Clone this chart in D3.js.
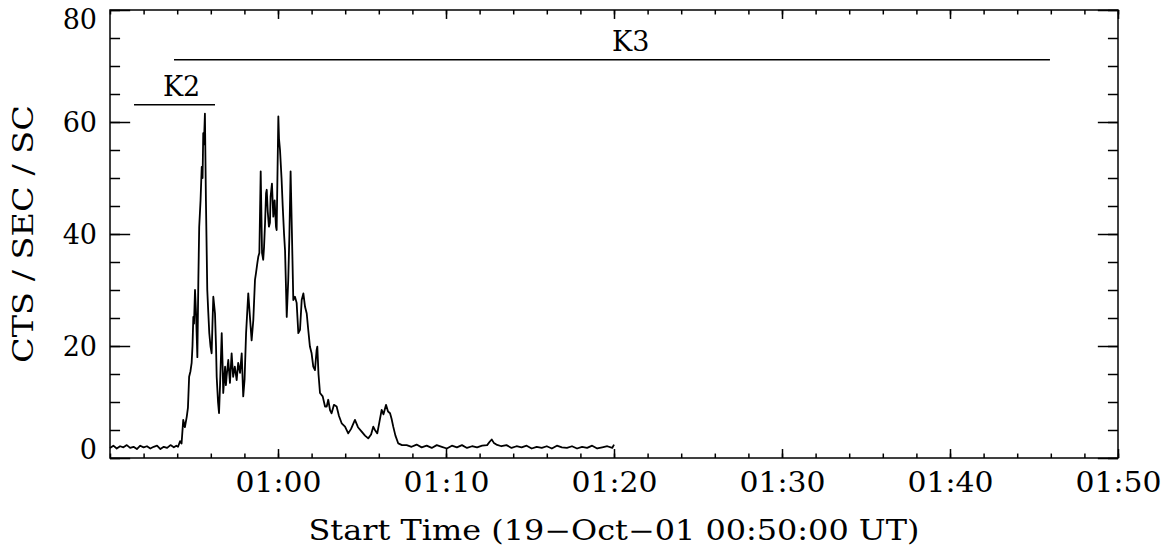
<!DOCTYPE html>
<html>
<head>
<meta charset="utf-8">
<script src="https://cdn.jsdelivr.net/npm/d3@7"></script>
<style>
  body { margin: 0; background: #fff; }
  svg text { font-family: "DejaVu Serif", serif; fill: #000; }
</style>
</head>
<body>
<div id="chart"></div>
<script>
// minutes after the start time 19-Oct-01 00:50:00 UT
const minutes = [
  0.0,0.2,0.4,0.6,0.8,1.0,1.2,1.4,1.6,1.8,2.0,2.2,2.4,2.6,2.8,3.0,3.2,3.4,3.6,3.8,3.95,
  4.05,4.17,4.26,4.36,4.46,4.57,4.64,4.71,4.79,4.86,
  4.91,4.96,5.00,5.06,5.12,5.20,5.26,5.31,5.39,5.46,
  5.51,5.55,5.59,5.65,5.71,5.79,5.85,5.91,5.98,6.05,
  6.10,6.15,6.25,6.31,6.35,6.43,6.49,6.55,6.65,6.70,
  6.74,6.85,6.90,6.94,7.04,7.14,7.24,7.33,7.43,7.54,
  7.63,7.74,7.84,7.93,8.01,8.10,8.23,8.33,8.43,8.53,
  8.63,8.69,8.77,8.83,8.89,8.97,9.05,9.12,9.17,9.23,
  9.29,9.33,9.39,9.46,9.52,9.56,9.64,9.72,9.80,9.88,
  9.92,10.02,10.06,10.12,10.21,10.28,10.36,10.42,10.52,10.61,
  10.68,10.75,10.83,10.91,11.01,11.11,11.21,11.31,11.41,11.51,
  11.61,11.71,11.80,11.90,12.00,12.10,12.20,12.30,12.34,12.41,
  12.50,12.66,12.80,12.90,12.99,13.10,13.19,13.33,13.49,13.63,
  13.79,13.99,14.18,14.35,14.58,14.76,14.98,15.18,15.37,15.54,
  15.67,15.77,15.91,16.04,16.17,16.28,16.43,16.55,16.67,16.76,
  16.86,16.99,17.16,17.38,17.66,
  17.95,18.25,18.55,18.85,19.15,19.45,19.75,20.05,20.35,20.65,
  20.95,21.25,21.55,21.85,22.15,22.45,22.6,22.72,22.85,23.0,
  23.3,23.6,23.9,24.2,24.5,24.8,25.1,25.4,25.7,26.0,
  26.3,26.6,26.9,27.2,27.5,27.8,28.1,28.4,28.7,29.0,
  29.3,29.6,29.9,30.0
];
const counts = [
  1.8,2.2,1.7,2.1,1.9,2.3,1.8,2.0,1.6,2.2,1.9,2.1,1.7,2.0,2.2,1.6,2.0,1.8,2.3,1.9,2.2,
  2.0,3.0,2.6,6.8,5.5,7.4,9.0,14.5,15.5,17.0,
  20.0,25.2,24.0,30.0,26.0,18.0,32.0,41.3,46.0,52.0,
  50.0,58.0,56.0,61.5,46.0,30.0,26.0,22.3,20.0,18.7,
  24.0,28.8,25.8,20.0,14.5,10.0,8.0,13.0,22.3,17.0,
  11.6,16.3,13.0,14.5,17.5,13.4,18.7,14.5,16.3,13.9,
  17.0,15.2,18.7,11.0,14.0,22.3,29.4,25.2,21.0,24.6,
  31.8,33.0,34.8,36.0,36.6,51.2,36.6,35.4,37.7,42.0,
  47.3,47.9,44.0,41.3,42.0,46.7,49.0,43.1,46.0,41.3,
  40.7,61.0,57.0,55.0,50.0,45.0,40.0,37.0,25.2,31.8,
  40.0,51.2,40.0,28.2,28.8,27.7,22.3,22.9,28.2,29.4,
  27.0,25.8,22.9,19.9,18.7,16.3,15.7,19.3,19.9,15.0,
  11.6,11.0,9.2,9.2,10.4,8.5,8.0,9.5,9.2,7.5,
  6.2,5.6,4.4,5.2,6.8,5.5,4.7,4.0,3.5,4.2,
  5.6,5.0,4.4,6.5,8.6,7.8,9.5,8.3,8.0,7.0,
  5.6,4.0,2.6,2.3,2.3,
  2.0,2.4,1.9,2.2,1.8,2.3,2.0,1.7,2.2,1.9,
  2.3,1.8,2.1,1.9,2.2,2.3,2.9,3.3,2.7,2.4,
  2.1,2.3,1.8,2.1,1.9,2.2,1.7,2.0,1.8,2.1,
  1.7,2.2,1.9,1.8,2.1,1.7,2.0,1.8,2.2,1.7,
  1.9,2.1,1.8,2.4
];

// interval bars drawn above the curve: name, start/end minute, level, label minute
const barNames = ["K2", "K3"];
const barStart = [1.43, 3.81];
const barEnd = [6.25, 55.95];
const barLevel = [63.1, 71.1];
const barLabelAt = [4.26, 31.0];

const startTime = new Date(Date.UTC(2001, 9, 19, 0, 50, 0));
const xTicks = [10, 20, 30, 40, 50, 60];
const yTicks = [0, 20, 40, 60, 80];

const width = 1176, height = 554;
const margin = {top: 10, right: 58, bottom: 96, left: 110};

function toDate(m) { return new Date(startTime.getTime() + m * 60000); }

const svg = d3.select("#chart").append("svg")
  .attr("width", width)
  .attr("height", height);

const x = d3.scaleUtc()
  .domain([toDate(0), toDate(60)])
  .range([margin.left, width - margin.right]);
const y = d3.scaleLinear()
  .domain([0, 80])
  .range([height - margin.bottom, margin.top]);

const plotW = width - margin.left - margin.right;
const plotH = height - margin.top - margin.bottom;
const fmt = d3.utcFormat("%H:%M");

// minor ticks first, then major ticks with labels
const minorX = d3.range(0, 61, 2).map(toDate);
const minorY = d3.range(0, 81, 5);

svg.append("g")
  .attr("transform", `translate(0,${height - margin.bottom})`)
  .call(d3.axisBottom(x).tickValues(minorX).tickSize(-plotH * 0.01).tickFormat(""));
svg.append("g")
  .attr("transform", `translate(0,${margin.top})`)
  .call(d3.axisTop(x).tickValues(minorX).tickSize(-plotH * 0.01).tickFormat(""));
svg.append("g")
  .attr("transform", `translate(${margin.left},0)`)
  .call(d3.axisLeft(y).tickValues(minorY).tickSize(-plotW * 0.01).tickFormat(""));
svg.append("g")
  .attr("transform", `translate(${width - margin.right},0)`)
  .call(d3.axisRight(y).tickValues(minorY).tickSize(-plotW * 0.01).tickFormat(""));

const xAxis = svg.append("g")
  .attr("class", "xaxis")
  .attr("transform", `translate(0,${height - margin.bottom})`)
  .call(d3.axisBottom(x).tickValues(xTicks.map(toDate)).tickSize(-plotH * 0.02)
    .tickPadding(15).tickFormat(fmt));
svg.append("g")
  .attr("transform", `translate(0,${margin.top})`)
  .call(d3.axisTop(x).tickValues(xTicks.map(toDate)).tickSize(-plotH * 0.02).tickFormat(""));
const yAxis = svg.append("g")
  .attr("class", "yaxis")
  .attr("transform", `translate(${margin.left},0)`)
  .call(d3.axisLeft(y).tickValues(yTicks).tickSize(-plotW * 0.02).tickPadding(13));
svg.append("g")
  .attr("transform", `translate(${width - margin.right},0)`)
  .call(d3.axisRight(y).tickValues(yTicks).tickSize(-plotW * 0.02).tickFormat(""));

svg.selectAll(".domain").remove();
svg.selectAll(".tick line").attr("stroke", "#000").attr("stroke-width", 1.5);
svg.selectAll(".xaxis text, .yaxis text").style("font-size", "27px");
// the vector font of the original is wider than DejaVu Serif
xAxis.selectAll(".tick text")
  .attr("textLength", 86)
  .attr("lengthAdjust", "spacingAndGlyphs");
// keep the end labels of the y axis inside the frame, as IDL does
yAxis.selectAll(".tick text").attr("dy", d => d === 80 ? "0.68em" : d === 0 ? "0.02em" : "0.34em");

// frame
svg.append("rect")
  .attr("x", margin.left)
  .attr("y", margin.top)
  .attr("width", plotW)
  .attr("height", plotH)
  .attr("fill", "none")
  .attr("stroke", "#000")
  .attr("stroke-width", 1.5);

// light curve
const line = d3.line()
  .x((d, i) => x(toDate(minutes[i])))
  .y(d => y(d));
svg.append("path")
  .datum(counts)
  .attr("fill", "none")
  .attr("stroke", "#000")
  .attr("stroke-width", 1.8)
  .attr("stroke-linejoin", "round")
  .attr("d", line);

// interval bars
const bars = svg.append("g");
bars.selectAll("line")
  .data(barNames)
  .enter().append("line")
    .attr("x1", (d, i) => x(toDate(barStart[i])))
    .attr("x2", (d, i) => x(toDate(barEnd[i])))
    .attr("y1", (d, i) => y(barLevel[i]))
    .attr("y2", (d, i) => y(barLevel[i]))
    .attr("stroke", "#000")
    .attr("stroke-width", 1.5);
bars.selectAll("text")
  .data(barNames)
  .enter().append("text")
    .attr("x", (d, i) => x(toDate(barLabelAt[i])))
    .attr("y", (d, i) => y(barLevel[i]) - 9)
    .attr("text-anchor", "middle")
    .style("font-size", "27px")
    .text(d => d);

// axis titles
svg.append("text")
  .attr("x", margin.left + plotW / 2)
  .attr("y", 540)
  .attr("text-anchor", "middle")
  .attr("textLength", 611)
  .attr("lengthAdjust", "spacingAndGlyphs")
  .style("font-size", "27px")
  .text("Start Time (19\u2212Oct\u221201 00:50:00 UT)");
svg.append("text")
  .attr("transform", `translate(33,${margin.top + plotH / 2}) rotate(-90)`)
  .attr("text-anchor", "middle")
  .attr("textLength", 258)
  .attr("lengthAdjust", "spacingAndGlyphs")
  .style("font-size", "27px")
  .text("CTS / SEC / SC");
</script>
</body>
</html>
